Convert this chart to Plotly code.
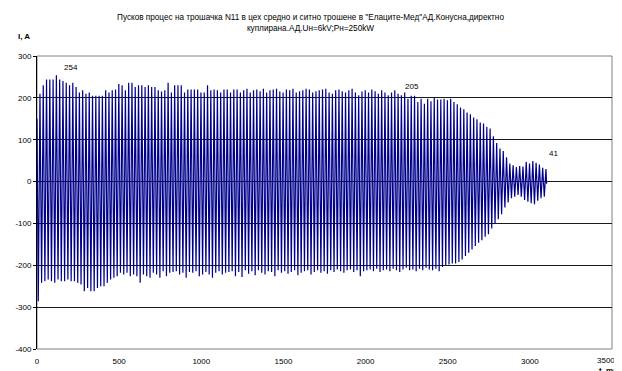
import plotly.graph_objects as go

# ---- data ----
period_ms = 20          # 50 Hz supply, one positive and one negative peak per period
start_t = 0
start_value = 150
neg_t0 = 8              # time of first negative peak, ms
pos_t0 = 18             # time of first positive peak, ms

pos_peaks = [
    210, 230, 244, 244, 244, 254, 244, 240, 236, 230, 236, 226, 213, 218, 210, 213, 205, 205, 205, 205,
    218, 213, 218, 220, 233, 230, 218, 236, 236, 226, 230, 230, 226, 230, 226, 226, 218, 215, 218, 236,
    213, 230, 230, 230, 213, 220, 220, 220, 220, 213, 213, 230, 218, 220, 218, 213, 220, 220, 213, 220,
    220, 213, 218, 222, 213, 218, 220, 216, 222, 213, 218, 220, 222, 215, 213, 220, 218, 222, 213, 216,
    218, 222, 220, 213, 216, 218, 220, 222, 213, 210, 218, 220, 216, 213, 218, 222, 213, 206, 215, 218,
    213, 220, 216, 210, 218, 213, 206, 213, 218, 210, 206, 213, 198, 205, 205, 190, 198, 186, 198, 192,
    200, 196,
    196, 198, 194, 198, 190, 185, 177, 173, 165, 161, 153, 149, 141, 139, 131, 127, 108, 92, 79, 73,
    58, 43, 39, 35, 37, 36, 47, 43, 49, 45, 41, 33, 30,
]

neg_peaks = [
    -286, -242, -238, -234, -238, -242, -234, -238, -238, -234, -238, -238, -242, -246, -262, -254, -262, -262, -254, -250,
    -250, -242, -234, -230, -226, -218, -222, -218, -226, -222, -226, -242, -222,
    -226, -230, -218, -222, -230, -214, -226, -218, -216, -214, -222, -218, -230, -216, -218, -214, -226, -222,
    -216, -222, -230, -218, -214, -222, -218, -216, -214,
    -226, -216, -228, -212, -220, -214, -224, -212, -218, -222, -214, -216, -226, -212, -218, -214, -220, -216, -212, -224,
    -218, -214, -212, -222, -216, -212, -218, -214, -220, -212, -216, -210, -214, -218, -212, -210, -216, -212, -226, -214,
    -212, -210, -214, -208, -216, -212, -210, -214, -208, -212, -216, -210, -206, -212, -210, -214, -208, -212, -206, -210,
    -212, -208,
    -214, -204, -200, -198, -196, -196, -192, -186, -178, -170, -162, -154, -146, -140, -132, -126, -112, -100, -90, -78,
    -62, -50, -40, -36, -32, -36, -44, -48, -52, -54, -46, -40, -36,
]
end_t = 3102
end_value = -5

x_ticks = [0, 500, 1000, 1500, 2000, 2500, 3000, 3500]
y_ticks = [-400, -300, -200, -100, 0, 100, 200, 300]

labels_text = ["254", "205", "41"]
labels_t = [205, 2283, 3141]
labels_v = [272, 226, 68]

title_line1 = 'Пусков процес на трошачка N11 в цех средно и ситно трошене в "Елаците-Мед"АД.Конусна,директно'
title_line2 = 'куплирана.АД.Uн=6kV;Pн=250kW'

# ---- build the waveform from the peak lists ----
t = [start_t]
v = [start_value]
n = min(len(pos_peaks), len(neg_peaks))
for k in range(n):
    t.append(neg_t0 + period_ms * k)
    v.append(neg_peaks[k])
    t.append(pos_t0 + period_ms * k)
    v.append(pos_peaks[k])
t.append(end_t)
v.append(end_value)

FONT = "Liberation Sans, Arial, sans-serif"

fig = go.Figure()
fig.add_trace(go.Scatter(
    x=t, y=v, mode="lines",
    line=dict(color="#00008B", width=1.2),
    hoverinfo="skip", showlegend=False,
))

for txt, xt, yv in zip(labels_text, labels_t, labels_v):
    fig.add_annotation(x=xt, y=yv, text=txt, showarrow=False,
                       font=dict(family=FONT, size=8, color="#000"),
                       xanchor="center", yanchor="middle")

fig.add_annotation(xref="paper", yref="paper", x=0.4765, y=1.0,
                   text=title_line1 + "<br>" + title_line2, showarrow=False,
                   font=dict(family=FONT, size=8.2, color="#000"),
                   xanchor="center", yanchor="bottom", yshift=21, align="center")

fig.add_annotation(xref="paper", yref="paper", x=0, y=1.0,
                   text="<b>I, A</b>", showarrow=False,
                   font=dict(family=FONT, size=8, color="#000"),
                   xanchor="right", yanchor="bottom", xshift=-5, yshift=13)

fig.add_annotation(xref="paper", yref="paper", x=1.0, y=0,
                   text="<b>t, ms</b>", showarrow=False,
                   font=dict(family=FONT, size=8, color="#000"),
                   xanchor="center", yanchor="top", yshift=-15, xshift=-4)

# last x tick label, nudged left so it stays inside the page
x_ticktext = [str(x) for x in x_ticks[:-1]] + [""]
fig.add_annotation(x=x_ticks[-1], yref="paper", y=0, text=str(x_ticks[-1]),
                   showarrow=False, font=dict(family=FONT, size=8, color="#000"),
                   xanchor="center", yanchor="top", xshift=-6, yshift=-5)

# plot area border (grey)
fig.add_shape(type="rect", xref="paper", yref="paper", x0=0, y0=0, x1=1, y1=1,
              line=dict(color="#808080", width=1), layer="below")

# the page body adds an 8 px margin, so the figure is sized/margined to compensate
fig.update_layout(
    width=614, height=363,
    margin=dict(l=29, r=10, t=48, b=22, autoexpand=False),
    paper_bgcolor="white", plot_bgcolor="white",
    font=dict(family=FONT, size=8, color="#000"),
    xaxis=dict(range=[0, 3500], tickvals=x_ticks, ticktext=x_ticktext,
               showgrid=False, zeroline=False, showline=False,
               ticks="outside", ticklen=4, tickcolor="rgba(0,0,0,0)", automargin=False,
               tickfont=dict(family=FONT, size=8, color="#000")),
    yaxis=dict(range=[-400, 300], tickvals=y_ticks, ticktext=[str(y) for y in y_ticks],
               showgrid=True, gridcolor="#1a1a1a", gridwidth=1, zeroline=False,
               showline=True, linecolor="#000", linewidth=1,
               ticks="outside", ticklen=3, tickcolor="#000", automargin=False,
               tickfont=dict(family=FONT, size=8, color="#000")),
)

fig.write_html("out.html")
